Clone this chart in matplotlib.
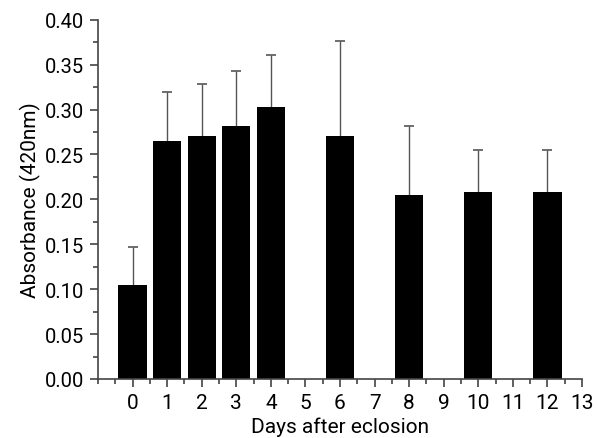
import numpy as np
import matplotlib
matplotlib.use("Agg")
import matplotlib.pyplot as plt
from matplotlib.ticker import MultipleLocator, FormatStrFormatter

plt.rcParams['font.family'] = ['Roboto', 'DejaVu Sans']

# data
days = [0, 1, 2, 3, 4, 6, 8, 10, 12]
absorbance = [0.105, 0.265, 0.270, 0.282, 0.303, 0.270, 0.205, 0.208, 0.208]
err_top = [0.147, 0.320, 0.328, 0.343, 0.361, 0.376, 0.282, 0.255, 0.255]
err = [t - v for t, v in zip(err_top, absorbance)]

fig = plt.figure(figsize=(5.99, 4.39), dpi=100)
ax = fig.add_axes([0.1636, 0.1344, 0.808, 0.8184])

ax.bar(days, absorbance, width=0.82, color='black', edgecolor='none', zorder=2)
# lower half hidden under the bar, only the upper whisker shows
ax.errorbar(days, absorbance, yerr=[np.full(len(err), 0.01), err], fmt='none',
            ecolor='#555555', elinewidth=1.0, capsize=3.5, capthick=1.2, zorder=1)

ax.set_xlim(-1, 13)
ax.set_ylim(0, 0.40)
ax.set_xticks(range(0, 14))
ax.xaxis.set_minor_locator(MultipleLocator(0.5))
ax.yaxis.set_major_locator(MultipleLocator(0.05))
ax.yaxis.set_minor_locator(MultipleLocator(0.025))
ax.yaxis.set_major_formatter(FormatStrFormatter('%.2f'))

for s in ['top', 'right']:
    ax.spines[s].set_visible(False)
for s in ['left', 'bottom']:
    ax.spines[s].set_color('#444444')
    ax.spines[s].set_linewidth(1.2)

ax.tick_params(which='major', direction='out', length=6, width=1.2, color='#444444',
               labelsize=14.5, pad=4)
ax.tick_params(which='major', axis='x', labelsize=15)
ax.tick_params(which='minor', direction='out', length=3.5, width=1.2, color='#444444')

ax.set_xlabel('Days after eclosion', fontsize=15, labelpad=3)
ax.set_ylabel('Absorbance (420nm)', fontsize=15, labelpad=3)

fig.savefig('out.png', dpi=100)
